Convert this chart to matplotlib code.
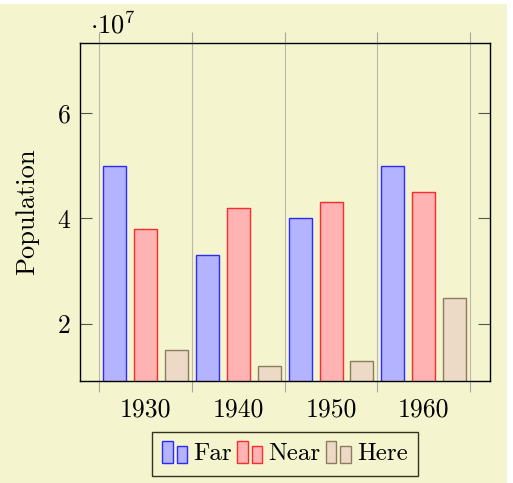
import matplotlib
matplotlib.use('Agg')
import matplotlib.pyplot as plt
import matplotlib.patches as mpatches
from matplotlib.legend_handler import HandlerBase
from matplotlib.ticker import FuncFormatter
import numpy as np

plt.rcParams['font.family'] = 'serif'
plt.rcParams['font.serif'] = ['cmr10']
plt.rcParams['mathtext.fontset'] = 'cm'
plt.rcParams['axes.unicode_minus'] = False

years = ['1930', '1940', '1950', '1960']
far = [5.0e7, 3.3e7, 4.0e7, 5.0e7]
near = [3.8e7, 4.2e7, 4.3e7, 4.5e7]
here = [1.5e7, 1.2e7, 1.3e7, 2.5e7]
series_names = ['Far', 'Near', 'Here']

bg = '#f4f4cf'
fills = ['#b3b3ff', '#ffb3b3', '#ecd9c6']
edges = ['#2b2bff', '#ff2b2b', '#8c7b5c']


class TwoBars(HandlerBase):
    # pgfplots style ybar legend: two little bars
    def create_artists(self, legend, orig_handle, xdescent, ydescent,
                       width, height, fontsize, trans):
        w = width * 0.42
        x0 = -xdescent
        y0 = -ydescent - 0.15 * height
        r1 = mpatches.Rectangle((x0, y0), w, height * 1.25,
                                facecolor=orig_handle.get_facecolor(),
                                edgecolor=orig_handle.get_edgecolor(),
                                lw=1.0, transform=trans)
        r2 = mpatches.Rectangle((x0 + width - w, y0), w, height * 0.95,
                                facecolor=orig_handle.get_facecolor(),
                                edgecolor=orig_handle.get_edgecolor(),
                                lw=1.0, transform=trans)
        return [r1, r2]


fig = plt.figure(figsize=(5.13, 4.83), dpi=100)
fig.patch.set_facecolor('white')
fig.patches.append(mpatches.Rectangle((0, 0), 507 / 513, 479 / 483,
                                      transform=fig.transFigure,
                                      facecolor=bg, edgecolor='none', zorder=-10))

ax = fig.add_axes([80 / 513, 1 - 381 / 483, 410 / 513, 338 / 483])
ax.set_facecolor(bg)

x = np.arange(len(years))
width = 0.248
step = 0.334
for i, vals in enumerate([far, near, here]):
    ax.bar(x + (i - 1) * step, vals, width, color=fills[i],
           edgecolor=edges[i], linewidth=1.0, zorder=3)

ax.set_xlim(-0.706, 3.714)
ax.set_ylim(0.92e7, 7.32e7)

# tick marks between groups, labels at group centres
ax.set_xticks(np.arange(-0.5, len(years), 1.0))
ax.set_xticklabels([])
ax.set_xticks(x, minor=True)
ax.set_xticklabels(years, minor=True)
ax.tick_params(axis='x', which='major', direction='out', length=7.9,
               top=True, color='#a8a8a0', width=0.8)
ax.tick_params(axis='x', which='minor', length=0, pad=12, labelsize=18.5)
ax.xaxis.grid(True, which='major', color='#b8b8b0', lw=0.8, zorder=0)

ax.set_yticks([2e7, 4e7, 6e7])
ax.yaxis.set_major_formatter(FuncFormatter(lambda v, p: '%d' % round(v / 1e7)))
ax.tick_params(axis='y', direction='in', length=8.5, right=True,
               color='#555555', width=0.8, pad=7, labelsize=18.5)

for s in ax.spines.values():
    s.set_color('black')
    s.set_linewidth(1.0)
    s.set_zorder(4)

ax.text(0.025, 1.027, r'$\cdot 10^{7}$', transform=ax.transAxes,
        ha='left', va='baseline', fontsize=19)
ax.set_ylabel('Population', fontsize=19, labelpad=13)

proxies = [mpatches.Patch(facecolor=fills[i], edgecolor=edges[i])
           for i in range(3)]
leg = ax.legend(proxies, series_names, loc='upper center',
                bbox_to_anchor=(0.5, -0.151), ncol=3, fontsize=18,
                handler_map={mpatches.Patch: TwoBars()},
                handlelength=1.0, handletextpad=0.25, columnspacing=0.2,
                borderpad=0.42, borderaxespad=0, fancybox=False,
                framealpha=1, facecolor=bg, edgecolor='#333322')
leg.get_frame().set_linewidth(1.0)

fig.savefig('out.png', dpi=100)
